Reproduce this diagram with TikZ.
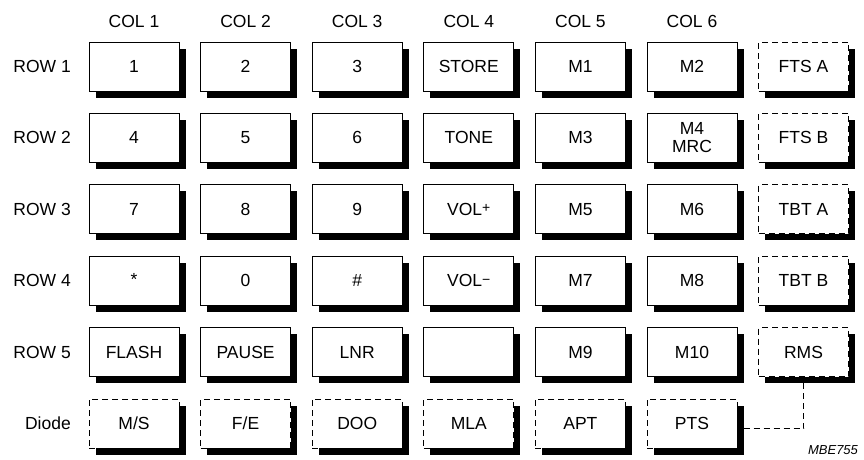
\documentclass[tikz,border=0pt]{standalone}
\usepackage{fontspec}
\setmainfont{Liberation Sans}
\pgfdeclarelayer{shadowlayer}
\pgfsetlayers{shadowlayer,main}
\begin{document}
\begin{tikzpicture}[x=1pt,y=-1pt,
  every node/.style={font=\fontsize{17.5}{19}\selectfont},
  keybox/.style={draw, line width=0.9pt, fill=white, minimum width=90pt, minimum height=49pt,
    inner sep=0pt, outer sep=0pt, align=center},
  dbox/.style={keybox, dash pattern=on 6pt off 4pt},
  lbl/.style={anchor=east, inner sep=0pt},
  clbl/.style={inner sep=0pt}]
\useasboundingbox (0,0) rectangle (864,459);
\def\cA{134}\def\cB{245.6}\def\cC{357.2}\def\cD{468.8}\def\cE{580.4}\def\cF{692}\def\cG{803.5}
\def\rA{66.5}\def\rB{137.9}\def\rC{209.3}\def\rD{280.7}\def\rE{352.1}\def\rF{423.5}
% column labels
\node[clbl] (c1) at (\cA,21) {COL 1};
\node[clbl] (c2) at (\cB,21) {COL 2};
\node[clbl] (c3) at (\cC,21) {COL 3};
\node[clbl] (c4) at (\cD,21) {COL 4};
\node[clbl] (c5) at (\cE,21) {COL 5};
\node[clbl] (c6) at (\cF,21) {COL 6};
% row labels
\node[lbl] (l1) at (71,\rA) {ROW 1};
\node[lbl] (l2) at (71,\rB) {ROW 2};
\node[lbl] (l3) at (71,\rC) {ROW 3};
\node[lbl] (l4) at (71,\rD) {ROW 4};
\node[lbl] (l5) at (71,\rE) {ROW 5};
\node[lbl] (l6) at (71,\rF) {Diode};
% row 1
\node[keybox] (k11) at (\cA,\rA) {1};
\node[keybox] (k12) at (\cB,\rA) {2};
\node[keybox] (k13) at (\cC,\rA) {3};
\node[keybox] (k14) at (\cD,\rA) {STORE};
\node[keybox] (k15) at (\cE,\rA) {M1};
\node[keybox] (k16) at (\cF,\rA) {M2};
\node[dbox] (k17) at (\cG,\rA) {FTS A};
% row 2
\node[keybox] (k21) at (\cA,\rB) {4};
\node[keybox] (k22) at (\cB,\rB) {5};
\node[keybox] (k23) at (\cC,\rB) {6};
\node[keybox] (k24) at (\cD,\rB) {TONE};
\node[keybox] (k25) at (\cE,\rB) {M3};
\node[keybox] (k26) at (\cF,\rB) {M4\\[-1pt]MRC};
\node[dbox] (k27) at (\cG,\rB) {FTS B};
% row 3
\node[keybox] (k31) at (\cA,\rC) {7};
\node[keybox] (k32) at (\cB,\rC) {8};
\node[keybox] (k33) at (\cC,\rC) {9};
\node[keybox] (k34) at (\cD,\rC) {VOL\raisebox{2.5pt}{\fontsize{14}{14}\selectfont +}};
\node[keybox] (k35) at (\cE,\rC) {M5};
\node[keybox] (k36) at (\cF,\rC) {M6};
\node[dbox] (k37) at (\cG,\rC) {TBT A};
% row 4
\node[keybox] (k41) at (\cA,\rD) {\raisebox{3pt}{*}};
\node[keybox] (k42) at (\cB,\rD) {0};
\node[keybox] (k43) at (\cC,\rD) {\#};
\node[keybox] (k44) at (\cD,\rD) {VOL\raisebox{2.5pt}{\fontsize{14}{14}\selectfont −}};
\node[keybox] (k45) at (\cE,\rD) {M7};
\node[keybox] (k46) at (\cF,\rD) {M8};
\node[dbox] (k47) at (\cG,\rD) {TBT B};
% row 5
\node[keybox] (k51) at (\cA,\rE) {FLASH};
\node[keybox] (k52) at (\cB,\rE) {PAUSE};
\node[keybox] (k53) at (\cC,\rE) {LNR};
\node[keybox] (k54) at (\cD,\rE) {};
\node[keybox] (k55) at (\cE,\rE) {M9};
\node[keybox] (k56) at (\cF,\rE) {M10};
\node[dbox] (k57) at (\cG,\rE) {RMS};
% diode row
\node[dbox] (k61) at (\cA,\rF) {M/S};
\node[dbox] (k62) at (\cB,\rF) {F/E};
\node[dbox] (k63) at (\cC,\rF) {DOO};
\node[dbox] (k64) at (\cD,\rF) {MLA};
\node[dbox] (k65) at (\cE,\rF) {APT};
\node[dbox] (k66) at (\cF,\rF) {PTS};
% shadows
\begin{pgfonlayer}{shadowlayer}
\foreach \n in {k11,k12,k13,k14,k15,k16,k17,k21,k22,k23,k24,k25,k26,k27,
  k31,k32,k33,k34,k35,k36,k37,k41,k42,k43,k44,k45,k46,k47,
  k51,k52,k53,k54,k55,k56,k57,k61,k62,k63,k64,k65,k66}
  \fill[black] ([xshift=6.5pt,yshift=-6.5pt]\n.south west) rectangle ([xshift=6.5pt,yshift=-6.5pt]\n.north east);
\end{pgfonlayer}
% connector
\draw[line width=0.9pt, dash pattern=on 6pt off 4pt]
  ([xshift=6.5pt,yshift=-5pt]k66.east) -| ([yshift=-6.5pt]k57.south);
% code
\node[inner sep=0pt, font=\fontsize{13}{14}\selectfont\itshape] (code) at (833,450) {MBE755};
\end{tikzpicture}
\end{document}
